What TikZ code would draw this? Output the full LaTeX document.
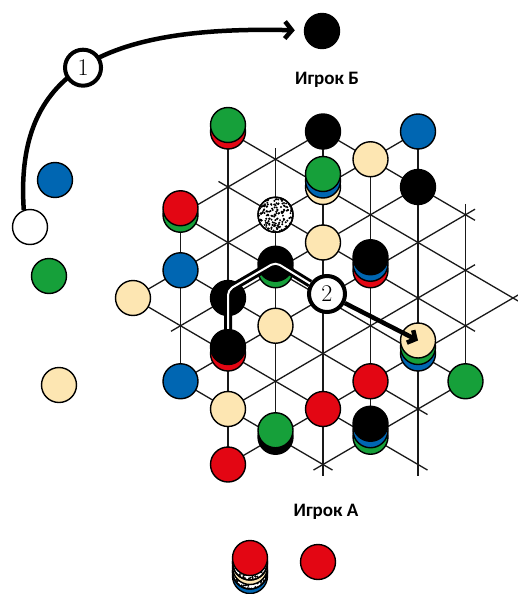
\documentclass[tikz,border=0pt]{standalone}
\usepackage{fontspec}
\setsansfont{Carlito}
\usetikzlibrary{arrows.meta,calc,positioning}
\definecolor{pred}{RGB}{227,6,19}
\definecolor{pgreen}{RGB}{22,160,58}
\definecolor{pblue}{RGB}{0,102,178}
\definecolor{pcream}{RGB}{253,230,178}
\tikzset{piece/.style={draw=black, circle, line width=1.4pt, minimum size=35pt, inner sep=0pt}}
\tikzset{board line/.style={draw=black!90, line width=1.3pt, shorten <=-11pt, shorten >=-11pt}}
\tikzset{move number/.style={draw=black, fill=white, circle, line width=4pt, minimum size=36pt, inner sep=0pt, font=\fontsize{24}{24}\selectfont}}
\tikzset{move arrow/.style={line width=4.5pt, -{Straight Barb[length=7pt,width=17pt]}}}
\tikzset{double path/.style={line width=3pt, double=white, double distance=2pt, rounded corners=5pt}}
\tikzset{player label/.style={font=\sffamily\bfseries\fontsize{19}{22}\selectfont}}
\newcommand{\granite}[2]{%
  \node[piece, fill=white] (#1) at #2 {};
  \begin{scope}
    \clip (#1.center) circle (17.5pt);
    \foreach \r in {1,...,200}
      \fill ($(#1.center)+(rand*17.5pt,rand*17.5pt)$) circle (1.1pt);
  \end{scope}
  \node[piece] at (#1.center) {};
}

\begin{document}
\begin{tikzpicture}[x=1pt, y=-1pt]
\pgfmathsetseed{7}
\useasboundingbox (0,0) rectangle (517,594);

% board
\begin{scope}[shift={(228,187)}, x=47.5pt, y=-27.75pt]
\foreach \i in {-2,...,6}
  \foreach \j in {-2,...,10}
    \coordinate (n\i_\j) at (\i,\j);
\foreach \i/\a/\b in {-1/1/7, 0/-2/10, 1/-1/9, 2/-2/10, 3/-1/9, 4/-2/10, 5/1/7}
  \draw[board line, line width=1.7pt] (n\i_\a) -- (n\i_\b);
\foreach \a/\b/\c/\d in {2/-2/5/1, 0/-2/6/4, 0/0/5/5, -1/1/5/7, -1/3/4/8, -2/4/4/10, -1/7/2/10}
  \draw[board line] (n\a_\b) -- (n\c_\d);
\foreach \a/\b/\c/\d in {-1/1/2/-2, -2/4/4/-2, -1/5/4/0, -1/7/5/1, 0/8/5/3, 0/10/6/4, 2/10/5/7}
  \draw[board line] (n\a_\b) -- (n\c_\d);
\end{scope}

% stacks, bottom piece first
\foreach \i/\j/\cols in {0/-2/{pred,pgreen}, 2/-2/{black}, 4/-2/{pblue}, 3/-1/{pcream},
    2/0/{pcream,pblue,pgreen}, 4/0/{black}, -1/1/{pgreen,pred}, 2/2/{pcream},
    -1/3/{pblue}, 1/3/{pgreen,black}, 3/3/{pred,pblue,black}, -2/4/{pcream},
    0/4/{black}, 1/5/{pcream}, 0/6/{pred,black}, 4/6/{pblue,pgreen,pcream},
    -1/7/{pblue}, 3/7/{pred}, 5/7/{pgreen}, 0/8/{pcream}, 2/8/{pred},
    1/9/{black,pgreen}, 3/9/{pgreen,pblue,black}, 0/10/{pred}}
  \foreach \c [count=\k] in \cols
    \node[piece, fill=\c] (p\i_\j_\k) at ([yshift={(\k-1)*6.5pt}]n\i_\j) {};
\granite{p1_1_1}{(n1_1)}

% pieces off the board
\node[piece, fill=black] (pieceB) at (322,31) {};
\node[player label] (playerB) at (327,80) {Игрок Б};
\node[piece, fill=pblue] (blue) at (55,180) {};
\node[piece, fill=white] (white) at (30,227) {};
\node[piece, fill=pgreen] (green) at (49,276) {};
\node[piece, fill=pcream] (cream) at (59,385) {};

\node[player label] (playerA) at (326,512) {Игрок А};
\node[piece, fill=pblue] (stackA1) at (250,576) {};
\granite{stackA2}{(250,571.5)}
\node[piece, fill=pcream] (stackA3) at (250,567) {};
\granite{stackA4}{(250,562.5)}
\node[piece, fill=pred] (stackA5) at (250,558) {};
\node[piece, fill=pred] (pieceA) at (318,562) {};

% move 1
\draw[move arrow, shorten >=9pt] (white.110) .. controls (15,80) and (90,25) .. (pieceB)
  node[move number, pos=0.51] (m1) {1};

% move 2
\node[move number] (m2) at ([xshift=4pt,yshift=4pt]n2_4) {2};
\draw[double path] (p0_6_2.north) -- ([yshift=8pt]n0_4) -- ([yshift=8pt]n1_3) -- (m2);
\draw[move arrow, -{Straight Barb[length=6pt,width=14pt]}] (m2) -- (p4_6_3.center);
\end{tikzpicture}
\end{document}
